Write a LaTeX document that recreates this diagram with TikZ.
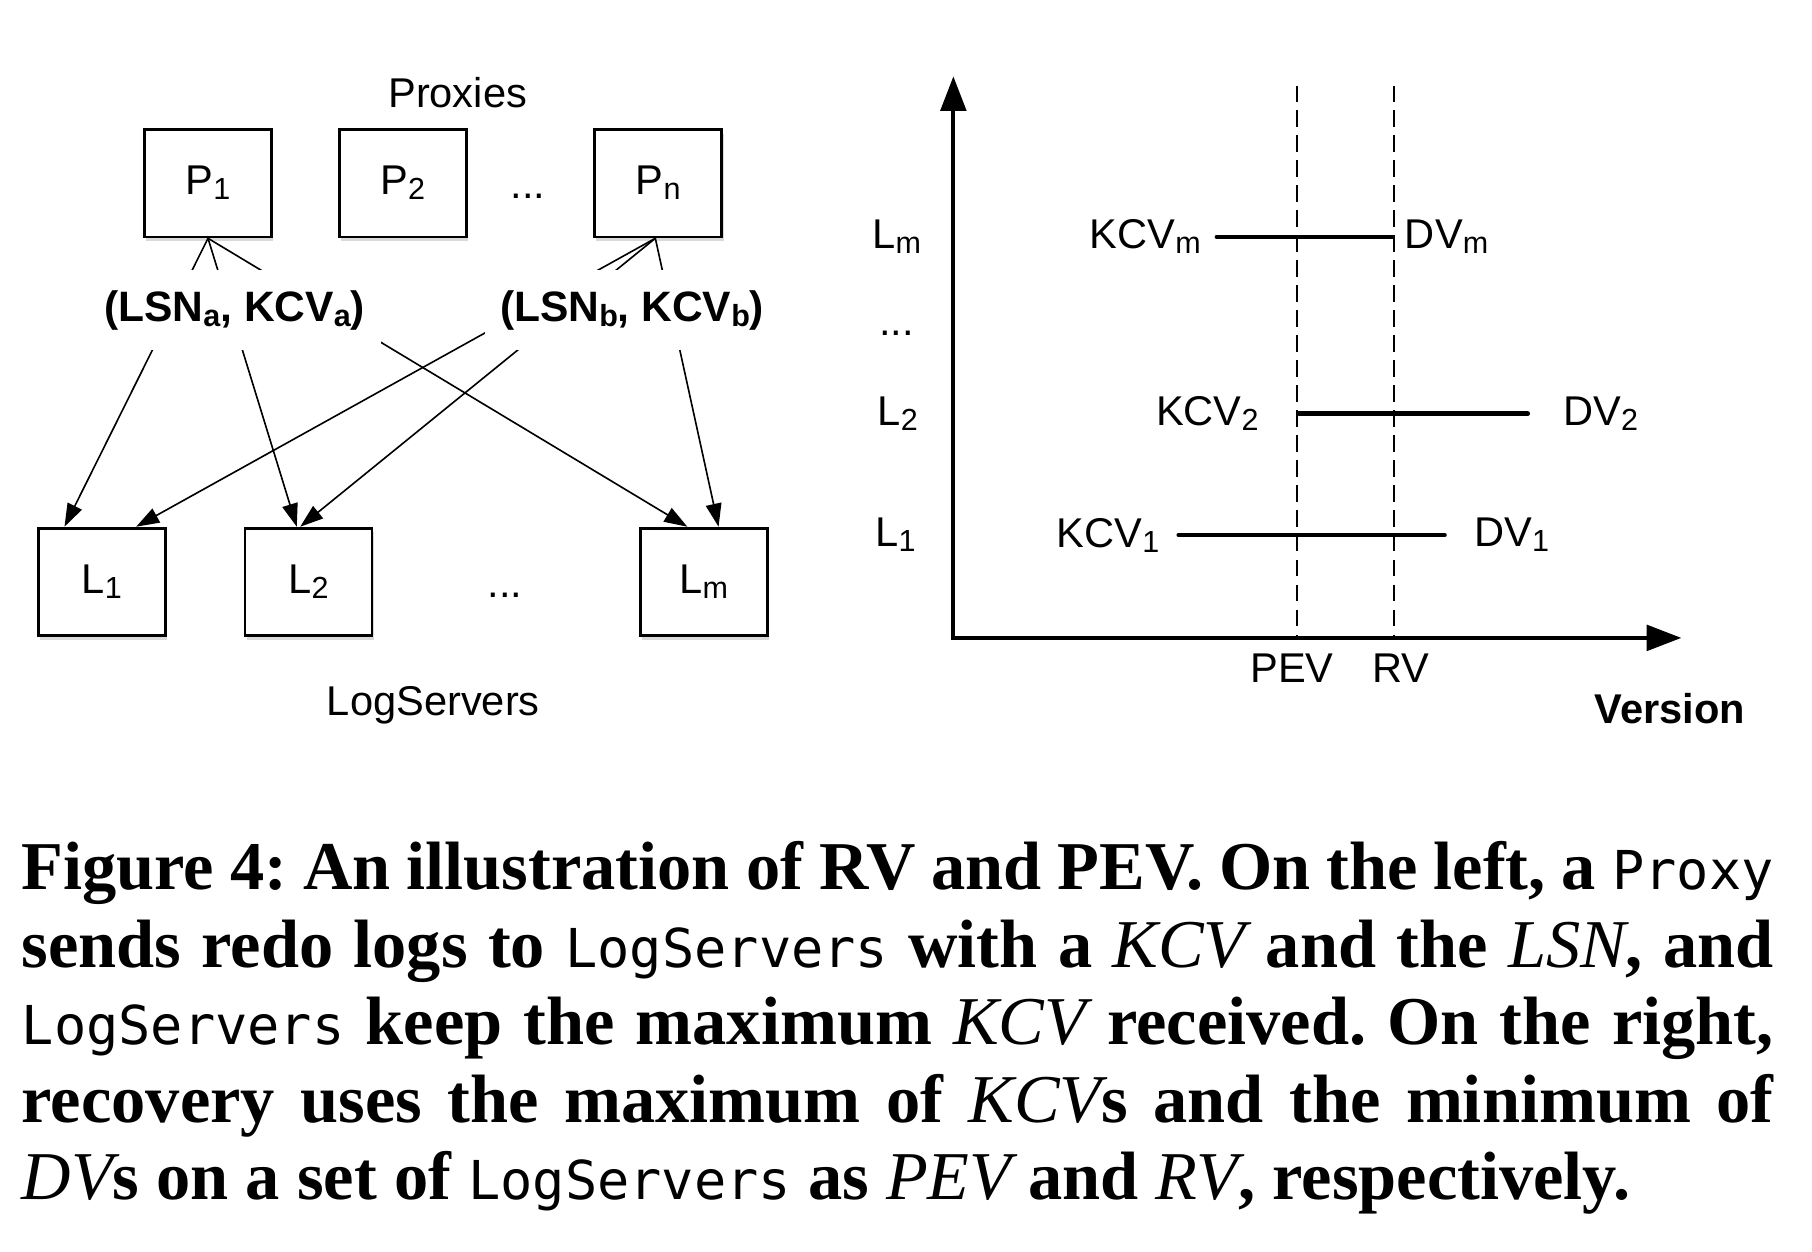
\documentclass[tikz,border=0pt]{standalone}
\usepackage{fontspec}
\setmainfont{Liberation Serif}
\newfontfamily\hv{Liberation Sans}
\newfontfamily\capmono{DejaVu Sans Mono}
\usetikzlibrary{arrows.meta,shadows}
\newcommand\sbs[1]{\raisebox{-0.12em}{\fontsize{6.6}{8}\selectfont #1}}
\newcommand\cmono[1]{{\mdseries\capmono\fontsize{11.6}{12}\selectfont #1}}
\newcommand\cit[1]{{\mdseries\itshape #1}}
\frenchspacing
\begin{document}
\begin{tikzpicture}[x=0.25pt,y=-0.25pt,
  box/.style={draw, line width=0.6pt, fill=white, minimum width=27.5pt, minimum height=23.25pt, inner sep=0pt,
    font=\hv\fontsize{9}{10}\selectfont, drop shadow={shadow xshift=0.4pt, shadow yshift=-0.9pt, opacity=0.3}},
  lbl/.style={font=\hv\fontsize{9}{10}\selectfont, inner sep=0pt},
  bl/.style={font=\hv\bfseries\fontsize{9}{10}\selectfont, inner sep=0pt},
  conn/.style={line width=0.35pt, -{Triangle[length=5pt,width=3.4pt]}},
  tuple/.style={fill=white, inner sep=0pt, minimum width=63.5pt, minimum height=17.25pt,
    font=\hv\bfseries\fontsize{9.2}{10}\selectfont},
  axis/.style={line width=0.9pt, line join=miter, {Triangle[length=7.5pt,width=5.5pt]}-{Triangle[length=7.5pt,width=5.5pt]}},
  guide/.style={line width=0.4pt, dash pattern=on 3.6pt off 1.8pt},
  bar/.style={line width=1pt, line cap=round},
  captxt/.style={anchor=base west, inner sep=0pt, font=\fontsize{14.8}{17}\selectfont\bfseries}
]
\useasboundingbox (0,0) rectangle (1568,1083);

% ---------- left: proxies and log servers ----------
\node[lbl] (prox) at (396,80) {Proxies};
\node[box] (P1) at (180,158.5) {P\sbs{1}};
\node[box] (P2) at (348.5,158.5) {P\sbs{2}};
\node[lbl] (pdots) at (457,170) {...};
\node[box] (Pn) at (569.5,158.5) {P\sbs{n}};

\node[box] (L1) at (88,503.5) {L\sbs{1}};
\node[box] (L2) at (267,503.5) {L\sbs{2}};
\node[lbl] (ldots) at (437,515) {...};
\node[box] (Lm) at (609,503.5) {L\sbs{m}};
\node[lbl] (logs) at (375,610) {LogServers};

\draw[conn] (P1.south) -- ([xshift=6pt]L1.north west);
\draw[conn] (P1.south) -- ([xshift=11.5pt]L2.north west);
\draw[conn] (P1.south) -- ([xshift=10.5pt]Lm.north west);
\draw[conn] ([xshift=-0.6pt]Pn.south) -- ([xshift=21.5pt]L1.north west);
\draw[conn] ([xshift=-0.6pt]Pn.south) -- ([xshift=12.25pt]L2.north west);
\draw[conn] ([xshift=-0.6pt]Pn.south) -- ([xshift=17.25pt]Lm.north west);

\node[tuple] (ta) at (203,268.5) {(LSN\sbs{a}, KCV\sbs{a})};
\node[tuple] (tb) at (547,268.5) {(LSN\sbs{b}, KCV\sbs{b})};

% ---------- right: version chart ----------
\coordinate (O) at (825,552);
\coordinate (Ytop) at (825,66);
\coordinate (Xend) at (1455,552);
\draw[axis] (Ytop) -- (O) -- (Xend);

\coordinate (pevtop) at (1122,74);
\coordinate (rvtop) at (1206,74);
\draw[guide] (pevtop) -- (pevtop |- O);
\draw[guide] (rvtop) -- (rvtop |- O);
\node[lbl] (pev) at (1118,578) {PEV};
\node[lbl] (rv) at (1212,578) {RV};
\node[bl] (ver) at (1445,613) {Version};

\node[lbl] (rLm) at (776,205) {L\sbs{m}};
\node[lbl] (rdots) at (776,288) {...};
\node[lbl] (rL2) at (777,358) {L\sbs{2}};
\node[lbl] (rL1) at (775,463) {L\sbs{1}};

\node[lbl, anchor=east] (kcvm) at (1040,205) {KCV\sbs{m}};
\node[lbl, anchor=west] (dvm) at (1215,205) {DV\sbs{m}};
\coordinate (bm1) at (1053,205); \coordinate (bm2) at (1205,205);
\draw[bar] (bm1) -- (bm2);

\node[lbl, anchor=east] (kcv2) at (1090,358) {KCV\sbs{2}};
\node[lbl, anchor=west] (dv2) at (1352,358) {DV\sbs{2}};
\coordinate (b21) at (1124,358); \coordinate (b22) at (1322,358);
\draw[bar] (b21) -- (b22);

\node[lbl, anchor=east] (kcv1) at (1004,463) {KCV\sbs{1}};
\node[lbl, anchor=west] (dv1) at (1275,463) {DV\sbs{1}};
\coordinate (b11) at (1020,463); \coordinate (b12) at (1250,463);
\draw[bar] (b11) -- (b12);

% ---------- caption ----------
\node[captxt] (c1) at (18,770) {\makebox[379pt][s]{Figure 4: An illustration of RV and PEV. On the left, a \cmono{Proxy}}};
\node[captxt] (c2) at (18,837) {\makebox[379pt][s]{sends redo logs to \cmono{LogServers} with a \cit{KCV} and the \cit{LSN}, and}};
\node[captxt] (c3) at (18,904) {\makebox[379pt][s]{\cmono{LogServers} keep the maximum \cit{KCV} received. On the right,}};
\node[captxt] (c4) at (18,971) {\makebox[379pt][s]{recovery uses the maximum of \cit{KCV}s and the minimum of}};
\node[captxt] (c5) at (18,1038) {\cit{DV}s on a set of \cmono{LogServers} as \cit{PEV} and \cit{RV}, respectively.};
\end{tikzpicture}
\end{document}
